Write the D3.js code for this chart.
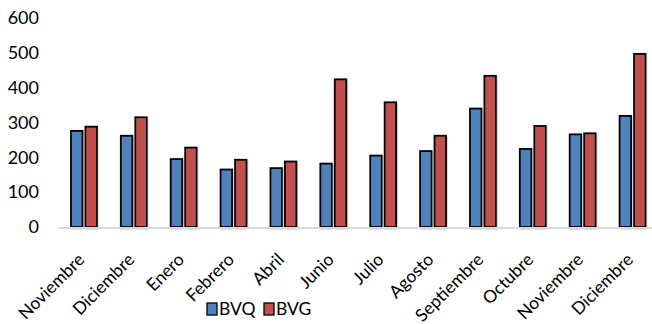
<!DOCTYPE html>
<html>
<head>
<meta charset="utf-8">
<script src="https://cdn.jsdelivr.net/npm/d3@7"></script>
<style>
  html, body { margin: 0; padding: 0; background: #fff; }
  svg { display: block; font-family: Lato, "Open Sans", sans-serif; }
</style>
</head>
<body>
<svg id="chart" width="652" height="324"></svg>
<script>
// Monthly values for the two series
const months = ["Noviembre", "Diciembre", "Enero", "Febrero", "Abril", "Junio",
                "Julio", "Agosto", "Septiembre", "Octubre", "Noviembre", "Diciembre"];
const seriesNames = ["BVQ", "BVG"];
const bvq = [276, 262, 195, 165, 169, 182, 205, 218, 340, 224, 266, 319];
const bvg = [288, 315, 228, 193, 188, 424, 358, 262, 434, 290, 269, 497];
const yTicks = [0, 100, 200, 300, 400, 500, 600];
const colors = ["#4f81bd", "#c0504d"];

const svg = d3.select("#chart");

const x0 = d3.scaleBand()
  .domain(d3.range(months.length))
  .range([59, 657.5])
  .padding(0);

const x1 = d3.scaleBand()
  .domain(seriesNames)
  .range([-13, 13])
  .paddingInner(0.2);

const y = d3.scaleLinear().domain([0, 600]).range([227, 18]);

const defs = svg.append("defs");
const shadow = defs.append("filter").attr("id", "shade")
  .attr("x", "-30%").attr("y", "-10%").attr("width", "160%").attr("height", "130%");
shadow.append("feDropShadow")
  .attr("dx", 0.5).attr("dy", 1.5).attr("stdDeviation", 0.7)
  .attr("flood-color", "#808080").attr("flood-opacity", 0.6);

// Y axis labels (no axis line, no gridlines)
const yAxis = svg.append("g")
  .attr("transform", "translate(39,0)")
  .call(d3.axisLeft(y).tickValues(yTicks).tickSize(0).tickPadding(0).tickFormat(d3.format("d")));
yAxis.select(".domain").remove();
yAxis.selectAll("text")
  .attr("font-family", "Lato, 'Open Sans', sans-serif")
  .attr("font-size", 18)
  .attr("fill", "#000");

// Bars
const data = months.map((m, i) => ({ i, values: [bvq[i], bvg[i]] }));
const groups = svg.append("g").selectAll("g")
  .data(data)
  .join("g")
  .attr("transform", d => `translate(${x0(d.i) + x0.bandwidth() / 2},0)`);

groups.selectAll("rect")
  .data(d => d.values.map((v, k) => ({ key: seriesNames[k], v, k })))
  .join("rect")
  .attr("x", d => x1(d.key))
  .attr("width", x1.bandwidth())
  .attr("y", d => y(d.v))
  .attr("height", d => y(0) - y(d.v))
  .attr("fill", d => colors[d.k])
  .attr("stroke", "#000")
  .attr("stroke-width", 1.8)
  .attr("filter", "url(#shade)");

// Baseline
svg.append("line")
  .attr("x1", 59).attr("x2", 652)
  .attr("y1", y(0) + 1).attr("y2", y(0) + 1)
  .attr("stroke", "#d9d9d9").attr("stroke-width", 2);

// Rotated category labels
const xAxis = svg.append("g")
  .attr("transform", `translate(0,${y(0) + 14})`)
  .call(d3.axisBottom(x0).tickSize(0).tickPadding(0).tickFormat(i => months[i]));
xAxis.select(".domain").remove();
xAxis.selectAll("text")
  .attr("font-family", "Lato, 'Open Sans', sans-serif")
  .attr("font-size", 17.5)
  .attr("fill", "#000")
  .attr("text-anchor", "end")
  .attr("dy", "0.7em")
  .attr("transform", "translate(-7,11) rotate(-45)");

// Legend
const legend = svg.append("g").attr("transform", "translate(207,303)");
const items = legend.selectAll("g")
  .data(seriesNames)
  .join("g")
  .attr("transform", (d, k) => `translate(${k * 57},0)`);
items.append("rect")
  .attr("width", 10).attr("height", 12)
  .attr("fill", (d, k) => colors[k])
  .attr("stroke", "#000").attr("stroke-width", 1.3);
items.append("text")
  .attr("x", 12).attr("y", 11.5)
  .attr("font-size", 17.5)
  .attr("fill", "#000")
  .text(d => d);
</script>
</body>
</html>
